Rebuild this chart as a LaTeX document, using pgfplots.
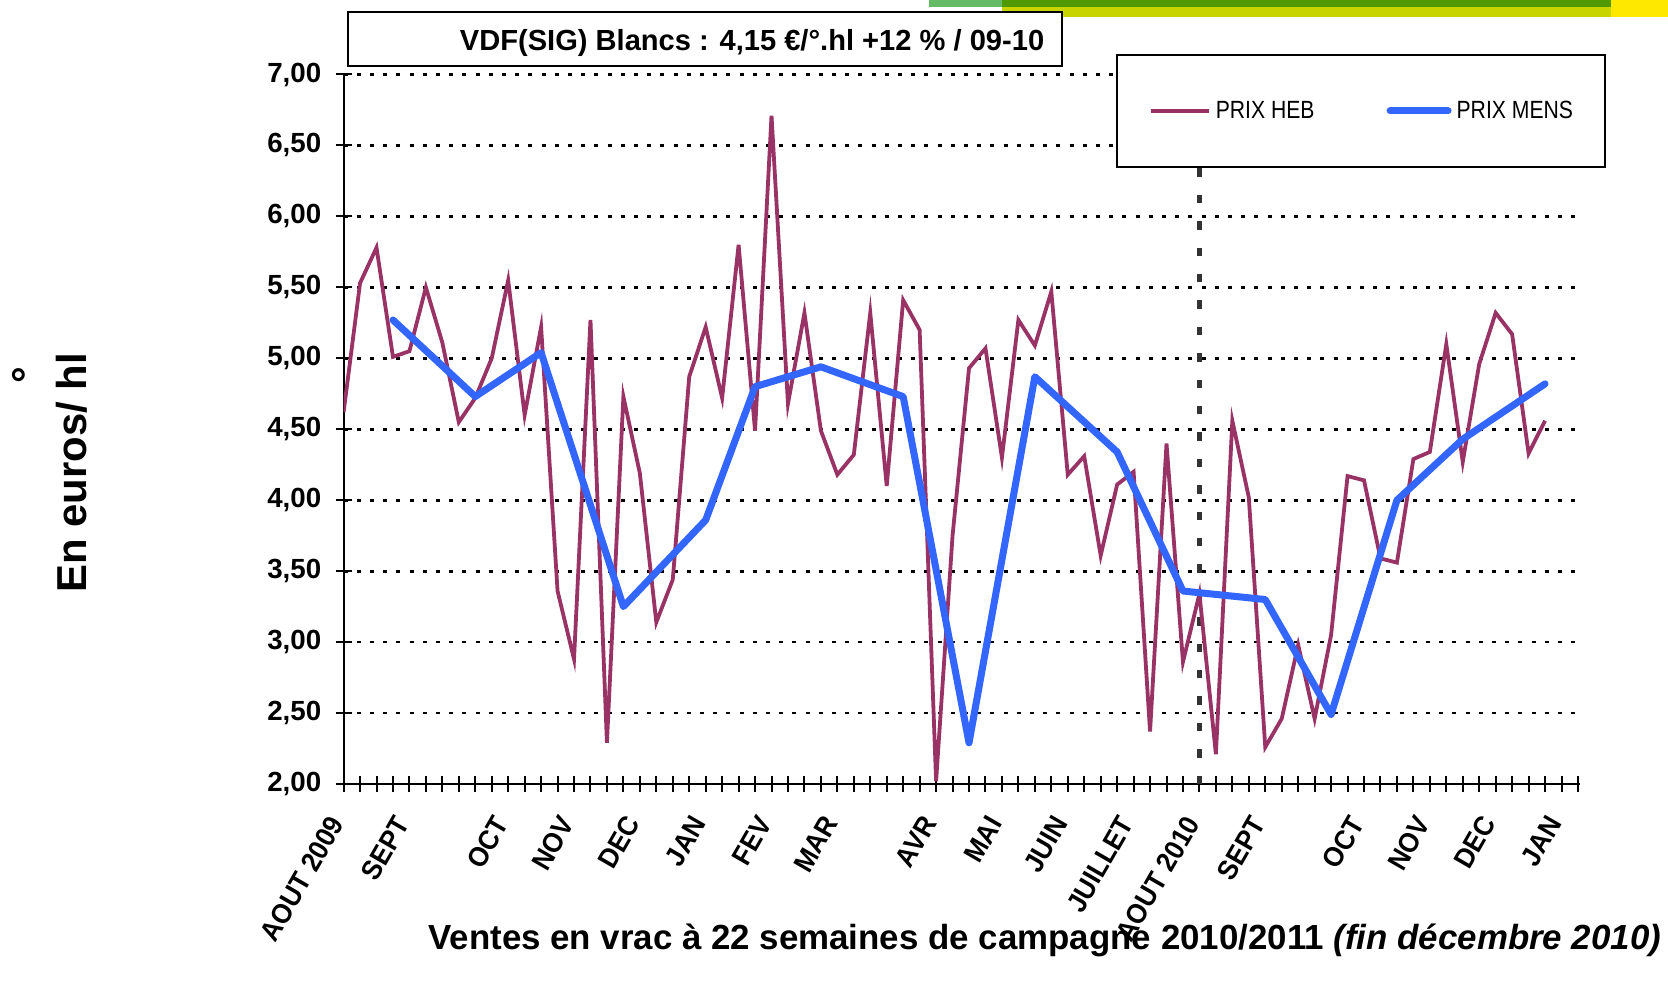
\documentclass[border=0pt]{standalone}
\usepackage{fontspec}
\setmainfont{Liberation Sans}
\newfontfamily\narrowfont[FakeStretch=0.85]{Liberation Sans}
\newfontfamily\tickfont[FakeStretch=0.93]{Liberation Sans}
\usepackage{pgfplots}
\pgfplotsset{compat=1.18}
\definecolor{heb}{HTML}{993366}
\definecolor{mens}{HTML}{3366FF}
\definecolor{lgreen}{HTML}{66BB66}
\definecolor{dgreen}{HTML}{4E9A00}
\definecolor{ygreen}{HTML}{C8D400}
\definecolor{yel}{HTML}{FFE800}
\definecolor{dashgray}{HTML}{333333}

\pgfplotstableread{
i v
0 4.62
1 5.53
2 5.78
3 5.01
4 5.05
5 5.50
6 5.11
7 4.55
8 4.72
9 5.00
10 5.55
11 4.60
12 5.22
13 3.36
14 2.88
15 5.27
16 2.29
17 4.73
18 4.19
19 3.14
20 3.44
21 4.87
22 5.22
23 4.72
24 5.80
25 4.49
26 6.71
27 4.68
28 5.32
29 4.49
30 4.18
31 4.32
32 5.32
33 4.10
34 5.41
35 5.20
36 2.02
37 3.75
38 4.93
39 5.07
40 4.30
41 5.27
42 5.09
43 5.47
44 4.18
45 4.31
46 3.61
47 4.11
48 4.20
49 2.37
50 4.40
51 2.86
52 3.34
53 2.21
54 4.56
55 4.02
56 2.26
57 2.46
58 2.98
59 2.46
60 3.05
61 4.17
62 4.14
63 3.59
64 3.56
65 4.29
66 4.34
67 5.10
68 4.27
69 4.96
70 5.32
71 5.17
72 4.33
73 4.56
}\hebtable

\pgfplotstableread{
i v
3 5.27
8 4.73
12 5.04
17 3.25
22 3.86
25 4.80
29 4.94
34 4.73
38 2.29
42 4.87
47 4.34
51 3.36
56 3.30
60 2.49
64 4.00
68 4.43
73 4.82
}\menstable

\begin{document}
\begin{tikzpicture}
\useasboundingbox (0bp,0bp) rectangle (834bp,493.5bp);
\fill[white] (0bp,0bp) rectangle (834bp,493.5bp);
% decorative top bars
\fill[lgreen] (464.7bp,490.15bp) rectangle (501bp,493.5bp);
\fill[dgreen] (501bp,490.15bp) rectangle (805.4bp,493.5bp);
\fill[ygreen] (501bp,484.85bp) rectangle (805.4bp,490.15bp);
\fill[yel] (805.4bp,484.85bp) rectangle (834bp,493.5bp);

\begin{axis}[
  at={(171.8bp,101.5bp)}, anchor=south west,
  scale only axis, width=618bp, height=354.75bp,
  xmin=0, xmax=75.1, ymin=2, ymax=7,
  axis x line=bottom, axis y line=left,
  axis line style={-, black, line width=1bp},
  xtick={0,4,10,14,18,22,26,30,36,40,44,48,52,56,62,66,70,74},
  xticklabels={AOUT 2009,SEPT,OCT,NOV,DEC,JAN,FEV,MAR,AVR,MAI,JUIN,JUILLET,AOUT 2010,SEPT,OCT,NOV,DEC,JAN},
  minor xtick={0,1,...,75},
  ytick={2,2.5,...,7},
  tick align=center,
  major tick length=8bp, minor tick length=8bp,
  every tick/.style={black, line width=1bp},
  minor tick style={black, line width=1bp},
  yticklabel style={font=\bfseries\fontsize{13.9}{14}\selectfont, anchor=east, inner sep=0pt, xshift=-7bp},
  xticklabel style={font=\tickfont\bfseries\fontsize{14}{14}\selectfont, xshift=-3.4bp, yshift=-13.2bp, rotate=60, anchor=east, inner sep=0pt},
  /pgf/number format/.cd, fixed, fixed zerofill, precision=2, use comma, assume math mode=true,
  /pgfplots/.cd,
  ymajorgrids,
  major grid style={black, line width=1.4bp, dash pattern=on 2bp off 4.6bp},
  legend columns=2,
  legend image code/.code={\draw[#1] (0bp,0bp) -- (29bp,0bp);},
  legend style={at={(0.6249,1.0289)}, anchor=north west, draw=black, line width=1bp, fill=white,
    inner xsep=16bp, inner ysep=22.9bp,
    nodes={inner sep=0pt, font=\narrowfont\fontsize{12.5}{13}\selectfont},
    /tikz/every odd column/.append style={column sep=2.5bp},
    /tikz/every even column/.append style={column sep=36bp}},
]
\draw[dashgray, line width=2.4bp, dash pattern=on 4.2bp off 9bp] (axis cs:52,2) -- (axis cs:52,7);
\addplot[heb, line width=1.9bp] table[x=i, y=v] {\hebtable};
\addlegendentry{PRIX HEB}
\addplot[mens, line width=3.5bp, line join=round, line cap=round] table[x=i, y=v] {\menstable};
\addlegendentry{PRIX MENS\hspace{1.5bp}}
\end{axis}

% title box
\draw[black, line width=1bp, fill=white] (174bp,460.5bp) rectangle (531bp,487.6bp);
\node[anchor=east, inner sep=0pt, font=\bfseries\fontsize{14.6}{15}\selectfont] at (522.3bp,472.2bp) {VDF(SIG) Blancs : 4,15 €/°.hl +12 \% / 09-10};

% y label
\node[rotate=90, inner sep=0pt, font=\bfseries\fontsize{21}{21}\selectfont] at (36bp,257bp) {En euros/ hl};
\node[rotate=90, inner sep=0pt, font=\bfseries\fontsize{21}{21}\selectfont] at (13.3bp,306bp) {°};

% x label
\node[anchor=east, inner sep=0pt, font=\bfseries\fontsize{17.5}{18}\selectfont] at (830.8bp,23.4bp) {Ventes en vrac à 22 semaines de campagne 2010/2011 \textit{(fin décembre 2010)}};
\end{tikzpicture}
\end{document}
